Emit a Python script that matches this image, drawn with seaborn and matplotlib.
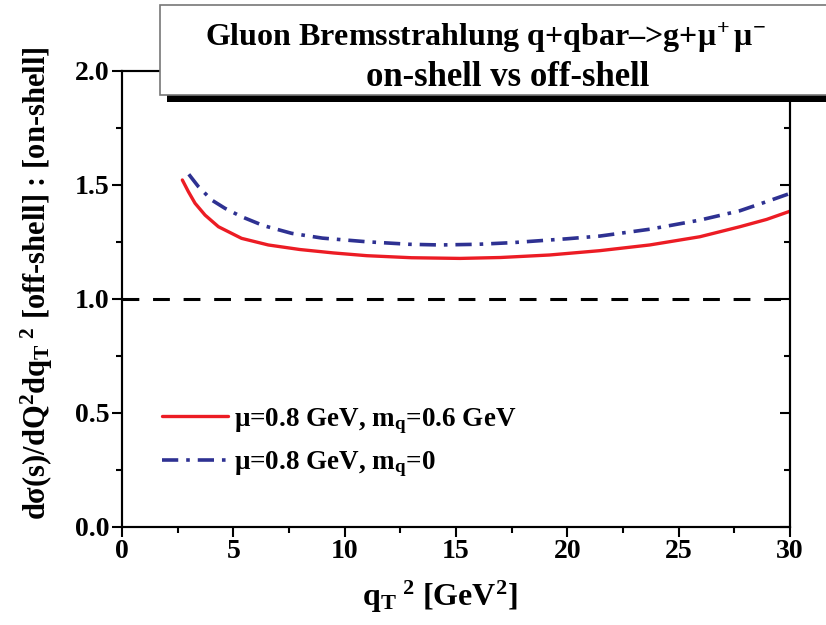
import matplotlib
matplotlib.use("Agg")
import matplotlib.pyplot as plt
from matplotlib.patches import Rectangle
import seaborn as sns
import pandas as pd

# ---- data ----
q2_red = [2.71, 2.98, 3.28, 3.73, 4.33, 5.37, 6.57, 7.99, 9.5, 10.99, 13.0, 15.18,
          17.0, 19.2, 21.46, 23.7, 25.95, 27.75, 28.95, 30.0]
ratio_red = [1.522, 1.471, 1.420, 1.368, 1.317, 1.266, 1.237, 1.217, 1.202, 1.190, 1.181, 1.178,
             1.182, 1.193, 1.212, 1.237, 1.273, 1.317, 1.349, 1.385]

q2_blue = [3.0, 3.43, 4.03, 4.62, 5.37, 6.35, 7.62, 9.0, 11.0, 12.9, 14.28, 16.0,
           17.5, 19.97, 21.46, 23.7, 25.95, 27.75, 28.95, 30.0]
ratio_blue = [1.547, 1.493, 1.434, 1.398, 1.361, 1.322, 1.288, 1.267, 1.251, 1.240, 1.237, 1.240,
              1.247, 1.264, 1.276, 1.306, 1.346, 1.387, 1.427, 1.463]

ref_x = [0, 30]
ref_y = [1.0, 1.0]

label_red = "μ=0.8 GeV, m$_q$=0.6 GeV"
label_blue = "μ=0.8 GeV, m$_q$=0"
title_1 = "Gluon Bremsstrahlung q+qbar–>g+μ$^{\\!+}$μ$^{\\!-}$"
title_2 = "on-shell vs off-shell"
xlabel = "q$_T$$^{\\ 2}$ [GeV$^2$]"
ylabel = "dσ(s)/dQ$^2$dq$_T$$^{\\ 2}$ [off-shell] : [on-shell]"
xticks = [0, 5, 10, 15, 20, 25, 30]
yticks = [0.0, 0.5, 1.0, 1.5, 2.0]

sns.set_theme(style="ticks")
plt.rcParams["font.family"] = ["Liberation Serif", "DejaVu Serif"]
plt.rcParams["font.weight"] = "bold"
plt.rcParams["mathtext.fontset"] = "custom"
plt.rcParams["mathtext.rm"] = "Liberation Serif:bold"
plt.rcParams["mathtext.it"] = "Liberation Serif:bold"
plt.rcParams["mathtext.bf"] = "Liberation Serif:bold"
plt.rcParams["axes.linewidth"] = 1.5
for k in ["text.color", "axes.labelcolor", "axes.edgecolor", "xtick.color", "ytick.color"]:
    plt.rcParams[k] = "black"

df_red = pd.DataFrame({"x": q2_red, "y": ratio_red})
df_blue = pd.DataFrame({"x": q2_blue, "y": ratio_blue})
df_ref = pd.DataFrame({"x": ref_x, "y": ref_y})

fig = plt.figure(figsize=(8.26, 6.25), dpi=100)
ax = fig.add_axes([0.1477, 0.1568, 0.8087, 0.7296])

sns.lineplot(data=df_ref, x="x", y="y", ax=ax, color="black", lw=2.2,
             linestyle=(0, (5.5, 4.5)), legend=False)
sns.lineplot(data=df_red, x="x", y="y", ax=ax, color="#EC1C24", lw=2.4,
             label=label_red, sort=False)
sns.lineplot(data=df_blue, x="x", y="y", ax=ax, color="#2E3192", lw=2.6,
             linestyle=(0, (4.5, 2.2, 1.0, 2.2)), label=label_blue, sort=False)

ax.set_xlim(0, 30)
ax.set_ylim(0, 2.0)
ax.set_xticks(xticks)
ax.set_yticks(yticks)
ax.set_yticklabels([f"{v:.1f}" for v in yticks])
ax.set_xticks([2.5, 7.5, 12.5, 17.5, 22.5, 27.5], minor=True)
ax.set_yticks([0.25, 0.75, 1.25, 1.75], minor=True)
ax.tick_params(which="major", direction="out", length=7, width=1.5,
               labelsize=20, pad=2, top=False, right=False)
ax.tick_params(which="minor", direction="out", length=4, width=1.5,
               top=False, right=False)
for lab in ax.get_xticklabels() + ax.get_yticklabels():
    lab.set_fontweight("bold")

ax2 = ax.twinx()
ax2.set_ylim(0, 2.0)
ax2.set_yticks(yticks)
ax2.set_yticks([0.25, 0.75, 1.25, 1.75], minor=True)
ax2.tick_params(which="major", direction="in", length=7, width=1.5, labelright=False)
ax2.tick_params(which="minor", direction="in", length=4, width=1.5, labelright=False)
for s in ax2.spines.values():
    s.set_linewidth(1.5)

ax.set_xlabel(xlabel, fontsize=23, fontweight="bold")
ax.set_ylabel(ylabel, fontsize=22, fontweight="bold")
ax.xaxis.set_label_coords(0.476, -0.114)
ax.yaxis.set_label_coords(-0.101, 0.535)

leg = ax.legend(loc="upper left", bbox_to_anchor=(162 / 826, 1 - 406 / 625),
                bbox_transform=fig.transFigure, frameon=False, fontsize=19.5,
                handlelength=2.44, handletextpad=0.2, labelspacing=0.5,
                borderpad=0, borderaxespad=0)
for t in leg.get_texts():
    t.set_fontweight("bold")

# title box with shadow
fig.add_artist(Rectangle((167 / 826, 1 - 102 / 625), 0.9, 8 / 625,
                         transform=fig.transFigure, facecolor="black",
                         edgecolor="none", zorder=5))
fig.add_artist(Rectangle((160 / 826, 1 - 95 / 625), 0.9, 90 / 625,
                         transform=fig.transFigure, facecolor="white",
                         edgecolor="#777777", lw=1.2, zorder=6))
fig.text(486 / 826, 1 - 38 / 625, title_1, ha="center", va="center",
         fontsize=23, fontweight="bold", zorder=7)
fig.text(508 / 826, 1 - 77 / 625, title_2, ha="center", va="center",
         fontsize=25, fontweight="bold", zorder=7)

fig.savefig("out.png", dpi=100)
